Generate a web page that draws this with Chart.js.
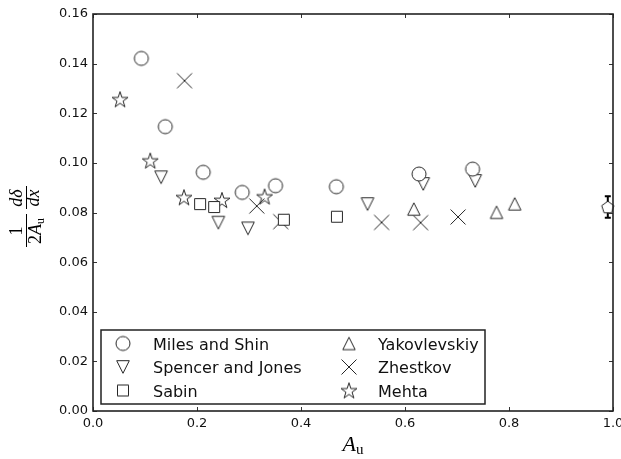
<!DOCTYPE html>
<html><head><meta charset="utf-8">
<script src="https://cdn.jsdelivr.net/npm/chart.js@4"></script>
<style>html,body{margin:0;padding:0;background:#fff;}canvas{display:block;}</style>
</head><body>
<canvas id="c" width="621" height="459"></canvas>
<script>
// ---- data ----
const xTicks = [0.0, 0.2, 0.4, 0.6, 0.8, 1.0];
const yTicks = [0.00, 0.02, 0.04, 0.06, 0.08, 0.10, 0.12, 0.14, 0.16];
const seriesNames = ["Miles and Shin", "Spencer and Jones", "Sabin", "Yakovlevskiy", "Zhestkov", "Mehta"];

const milesX = [0.093, 0.139, 0.212, 0.287, 0.351, 0.468, 0.627, 0.730];
const milesY = [0.1421, 0.1146, 0.0962, 0.0881, 0.0908, 0.0904, 0.0955, 0.0975];

const spencerX = [0.131, 0.241, 0.298, 0.528, 0.635, 0.735];
const spencerY = [0.0942, 0.0759, 0.0736, 0.0834, 0.0915, 0.0927];

const sabinX = [0.206, 0.233, 0.367, 0.469];
const sabinY = [0.0834, 0.0822, 0.0771, 0.0783];

const yakovX = [0.617, 0.776, 0.811];
const yakovY = [0.0814, 0.0801, 0.0835];

const zhestX = [0.176, 0.315, 0.361, 0.555, 0.630, 0.702];
const zhestY = [0.1331, 0.0826, 0.0763, 0.0760, 0.0759, 0.0782];

const mehtaX = [0.052, 0.110, 0.175, 0.248, 0.330];
const mehtaY = [0.1256, 0.1009, 0.0861, 0.0850, 0.0864];

const refX = [0.990];
const refY = [0.0822];
const refErr = [0.0043];

// ---- markers ----
const EDGE = '#262626';
function marker(size, draw) {
  const c = document.createElement('canvas');
  c.width = c.height = size;
  const g = c.getContext('2d');
  g.translate(size / 2, size / 2);
  g.lineWidth = 1;
  g.strokeStyle = EDGE;
  g.fillStyle = '#fff';
  g.beginPath();
  draw(g);
  return c;
}
function poly(g, n, R, rIn) {
  const pts = rIn ? 2 * n : n;
  for (let i = 0; i < pts; i++) {
    const r = rIn ? (i % 2 ? rIn : R) : R;
    const a = -Math.PI / 2 + i * Math.PI * 2 / pts;
    const px = r * Math.cos(a), py = r * Math.sin(a);
    if (i === 0) g.moveTo(px, py); else g.lineTo(px, py);
  }
  g.closePath();
}
const mCircle = marker(20, g => { g.arc(0, 0, 7, 0, Math.PI * 2); g.fill(); g.stroke(); });
const mDown = marker(20, g => { g.moveTo(-6.3, -6.3); g.lineTo(6.3, -6.3); g.lineTo(0, 6.3); g.closePath(); g.fill(); g.stroke(); });
const mSquare = marker(20, g => { g.rect(-5.5, -5.5, 11, 11); g.fill(); g.stroke(); });
const mUp = marker(20, g => { g.moveTo(0, -6.2); g.lineTo(6.2, 6.2); g.lineTo(-6.2, 6.2); g.closePath(); g.fill(); g.stroke(); });
const mCross = marker(20, g => { g.moveTo(-7.5, -7.5); g.lineTo(7.5, 7.5); g.moveTo(7.5, -7.5); g.lineTo(-7.5, 7.5); g.stroke(); });
const mStar = marker(22, g => { g.translate(0, 0.7); poly(g, 5, 8.4, 3.2); g.fill(); g.stroke(); });
const mPent = marker(18, g => { g.translate(0, 0.6); poly(g, 5, 6.4); g.fill(); g.stroke(); });

const markers = [mCircle, mDown, mSquare, mUp, mCross, mStar];
const xsList = [milesX, spencerX, sabinX, yakovX, zhestX, mehtaX];
const ysList = [milesY, spencerY, sabinY, yakovY, zhestY, mehtaY];

const datasets = seriesNames.map((name, k) => ({
  label: name,
  data: xsList[k].map((x, i) => ({ x: x, y: ysList[k][i] })),
  pointStyle: markers[k],
  pointRadius: 7,
  showLine: false,
  clip: false
}));
datasets.push({
  label: 'reference',
  data: refX.map((x, i) => ({ x: x, y: refY[i] })),
  pointStyle: mPent,
  pointRadius: 7,
  showLine: false,
  clip: false
});

// ---- decorations plugin ----
const deco = {
  id: 'deco',
  beforeDatasetsDraw(chart) {
    const g = chart.ctx, xs = chart.scales.x, ys = chart.scales.y;
    g.save();
    g.strokeStyle = '#000';
    g.lineWidth = 2;
    refX.forEach((x, i) => {
      const px = xs.getPixelForValue(x);
      const t = ys.getPixelForValue(refY[i] + refErr[i]);
      const b = ys.getPixelForValue(refY[i] - refErr[i]);
      g.beginPath();
      g.moveTo(px, t); g.lineTo(px, b);
      g.moveTo(px - 3, t); g.lineTo(px + 3, t);
      g.moveTo(px - 3, b); g.lineTo(px + 3, b);
      g.stroke();
    });
    g.restore();
  },
  afterDraw(chart) {
    const g = chart.ctx, a = chart.chartArea, xs = chart.scales.x, ys = chart.scales.y;
    g.save();
    // ticks inward
    g.strokeStyle = '#333';
    g.lineWidth = 1;
    g.beginPath();
    xTicks.forEach(v => {
      const px = Math.round(xs.getPixelForValue(v)) + 0.5;
      g.moveTo(px, a.bottom); g.lineTo(px, a.bottom - 4);
      g.moveTo(px, a.top); g.lineTo(px, a.top + 4);
    });
    yTicks.forEach(v => {
      const py = Math.round(ys.getPixelForValue(v)) + 0.5;
      g.moveTo(a.left, py); g.lineTo(a.left + 4, py);
      g.moveTo(a.right, py); g.lineTo(a.right - 4, py);
    });
    g.stroke();
    // frame
    g.strokeStyle = '#222';
    g.lineWidth = 1.6;
    g.strokeRect(a.left, a.top, a.right - a.left, a.bottom - a.top);

    // legend
    g.fillStyle = '#fff';
    g.fillRect(101, 330, 384, 74);
    g.lineWidth = 1.5;
    g.strokeStyle = '#222';
    g.strokeRect(101, 330, 384, 74);
    g.font = '16px "DejaVu Sans"';
    g.fillStyle = '#111';
    g.textAlign = 'left';
    g.textBaseline = 'alphabetic';
    const rows = [343.5, 367, 390.5];
    const colM = [123, 349], colT = [153, 378];
    seriesNames.forEach((name, k) => {
      const col = Math.floor(k / 3), row = k % 3;
      const m = markers[k];
      g.drawImage(m, colM[col] - m.width / 2, rows[row] - m.height / 2);
      g.fillText(name, colT[col], rows[row] + 6);
    });

    // x axis title: A_u
    g.fillStyle = '#000';
    g.font = 'italic 22px "Liberation Serif"';
    const wA = g.measureText('A').width;
    g.font = '15px "Liberation Serif"';
    const wu = g.measureText('u').width;
    const x0 = 353 - (wA + wu) / 2;
    g.font = 'italic 22px "Liberation Serif"';
    g.fillText('A', x0, 451);
    g.font = '15px "Liberation Serif"';
    g.fillText('u', x0 + wA, 454);

    // y axis title: 1/(2A_u) dδ/dx rotated
    function rotText(parts, cx, cy) {
      g.save();
      g.translate(cx, cy);
      g.rotate(-Math.PI / 2);
      let w = 0;
      parts.forEach(p => { g.font = p.font; p.w = g.measureText(p.t).width; w += p.w; });
      let u = -w / 2;
      g.textBaseline = 'alphabetic';
      parts.forEach(p => { g.font = p.font; g.fillText(p.t, u, p.dv || 0); u += p.w; });
      g.restore();
    }
    const up = '18px "Liberation Serif"', it = 'italic 18px "Liberation Serif"', sub = '12px "Liberation Serif"';
    rotText([{ t: '1', font: up }], 22, 231);
    rotText([{ t: '2', font: up }, { t: 'A', font: it }, { t: 'u', font: sub, dv: 3 }], 41, 231);
    rotText([{ t: 'd', font: it }, { t: 'δ', font: it }], 22, 198);
    rotText([{ t: 'd', font: it }, { t: 'x', font: it }], 39, 198);
    g.strokeStyle = '#000';
    g.lineWidth = 1;
    g.beginPath();
    g.moveTo(26.5, 247); g.lineTo(26.5, 214);
    g.moveTo(26.5, 209); g.lineTo(26.5, 186);
    g.stroke();
    g.restore();
  }
};

new Chart(document.getElementById('c'), {
  type: 'scatter',
  data: { datasets: datasets },
  options: {
    responsive: false,
    animation: false,
    devicePixelRatio: 1,
    layout: { padding: { top: 14, right: 5, left: 0, bottom: 0 } },
    plugins: { legend: { display: false }, tooltip: { enabled: false } },
    scales: {
      x: {
        type: 'linear', min: 0, max: 1,
        afterBuildTicks: s => { s.ticks = xTicks.map(v => ({ value: v })); },
        ticks: { callback: v => Number(v).toFixed(1), font: { family: 'DejaVu Sans', size: 13 }, color: '#111', padding: 5, maxRotation: 0, autoSkip: false },
        grid: { display: false, drawTicks: false },
        border: { display: false },
        afterFit: s => { s.height = 48; s.paddingLeft = 0; s.paddingRight = 0; }
      },
      y: {
        type: 'linear', min: 0, max: 0.16,
        afterBuildTicks: s => { s.ticks = yTicks.map(v => ({ value: v })); },
        ticks: { callback: v => Number(v).toFixed(2), font: { family: 'DejaVu Sans', size: 13 }, color: '#111', padding: 5, autoSkip: false },
        grid: { display: false, drawTicks: false },
        border: { display: false },
        afterFit: s => { s.width = 93; s.paddingTop = 0; s.paddingBottom = 0; }
      }
    }
  },
  plugins: [deco]
});
</script>
</body></html>
